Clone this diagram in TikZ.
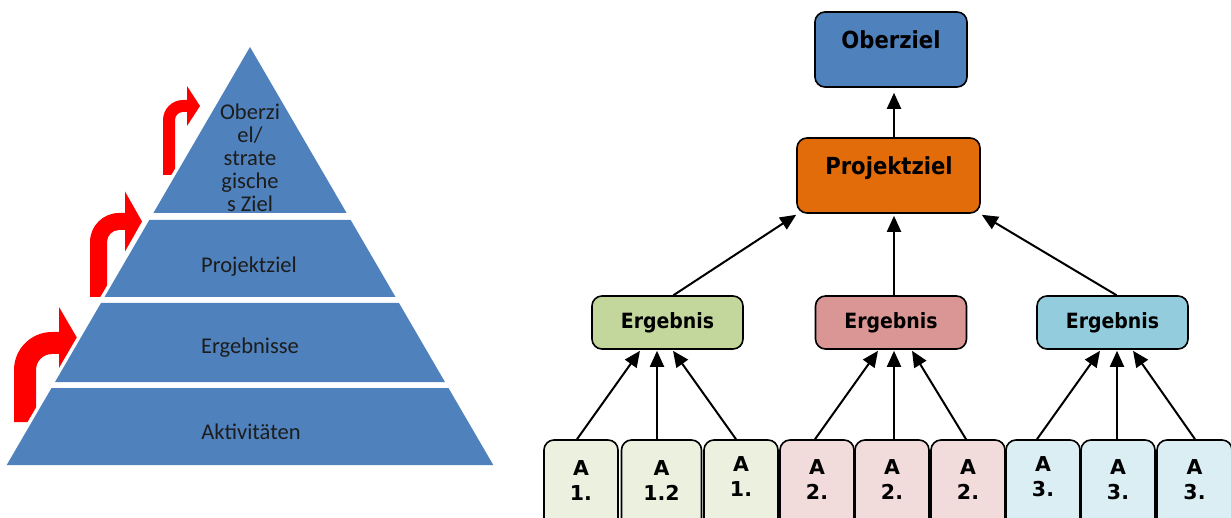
\documentclass[tikz,border=0pt]{standalone}
\usepackage{fontspec}
\setmainfont{Carlito}
\newfontfamily\dvb{DejaVu Sans Bold}[FakeStretch=0.9]
\newfontfamily\dvbw{DejaVu Sans Bold}
\usetikzlibrary{arrows.meta,calc}
\definecolor{pyrblue}{HTML}{4F81BD}
\definecolor{arrowred}{HTML}{FF0000}
\definecolor{obblue}{HTML}{4F81BD}
\definecolor{pzorange}{HTML}{E36C0A}
\definecolor{egreen}{HTML}{C3D69B}
\definecolor{epink}{HTML}{D99694}
\definecolor{ecyan}{HTML}{93CDDD}
\definecolor{agreen}{HTML}{EBF1DE}
\definecolor{apink}{HTML}{F2DCDB}
\definecolor{acyan}{HTML}{DBEEF4}
\definecolor{pyrtext}{HTML}{1C1C1C}
% xL, yB, t, yT, R, xH, h, xTip
\newcommand{\redbent}[8]{%
  \fill[arrowred] (#1,#2) -- (#1,{#4+#5})
    .. controls (#1,{#4+0.448*#5}) and ({#1+0.448*#5},#4) .. ({#1+#5},#4)
    -- (#6,#4) -- (#6,{#4+#3/2-#7}) -- (#8,{#4+#3/2}) -- (#6,{#4+#3/2+#7})
    -- (#6,{#4+#3}) -- ({#1+#5},{#4+#3})
    .. controls ({#1+#5-0.552*(#5-#3)},{#4+#3}) and ({#1+#3},{#4+#5-0.552*(#5-#3)}) .. ({#1+#3},{#4+#5})
    -- ({#1+#3},#2) -- cycle;}
\newcommand{\pyrx}[1]{0.582*(#1-47)}
\begin{document}
\begin{tikzpicture}[x=1pt,y=-1pt,
  pyrlabel/.style={text=pyrtext, font=\fontsize{22.5}{23}\selectfont, align=center, inner sep=0pt},
  gbox/.style={draw=black, line width=1.6pt, rounded corners=10pt, inner sep=0pt},
  bigtxt/.style={font=\dvb\fontsize{23.5}{26}\selectfont, inner sep=0pt},
  etxt/.style={font=\dvb\fontsize{21}{24}\selectfont},
  atxt/.style={font=\dvbw\fontsize{20.5}{25}\selectfont, align=center, inner sep=0pt},
  conn/.style={draw=black, line width=2pt, -{Triangle[length=16pt,width=14pt]}}]
\useasboundingbox (0,0) rectangle (1231,518);
\fill[white] (0,0) rectangle (1231,518);

% red bent arrows (behind pyramid)
\redbent{14}{422}{22}{332}{38}{59}{36}{80}
\redbent{90}{297}{17}{213}{29}{125}{30}{142}
\redbent{163}{175}{12}{100}{20}{187}{20}{200}

% pyramid: white halo, then blue fill
\foreach \ya/\yb in {220/297,303/382,388/465}{
  \draw[white, line width=7pt, line join=miter]
    ({250-\pyrx{\ya}},\ya) -- ({250+\pyrx{\ya}},\ya) -- ({250+\pyrx{\yb}},\yb) -- ({250-\pyrx{\yb}},\yb) -- cycle;
}
\draw[white, line width=7pt, line join=round] (250,47) -- ({250+\pyrx{213}},213) -- ({250-\pyrx{213}},213) -- cycle;
\fill[pyrblue] (250,47) -- ({250+\pyrx{213}},213) -- ({250-\pyrx{213}},213) -- cycle;
\foreach \ya/\yb in {220/297,303/382,388/465}{
  \fill[pyrblue]
    ({250-\pyrx{\ya}},\ya) -- ({250+\pyrx{\ya}},\ya) -- ({250+\pyrx{\yb}},\yb) -- ({250-\pyrx{\yb}},\yb) -- cycle;
}
\node[pyrlabel] (t1) at (250,158) {Oberzi\\el/\\strate\\gische\\s Ziel};
\node[pyrlabel] (t2) at (249,267) {Projektziel};
\node[pyrlabel] (t3) at (250,348) {Ergebnisse};
\node[pyrlabel] (t4) at (251,432) {Aktivitäten};

% right hierarchy
\node[gbox, fill=obblue, minimum width=152pt, minimum height=75pt] (ob) at (891,49.5) {};
\node[bigtxt] (obt) at (891,40) {Oberziel};
\node[gbox, fill=pzorange, minimum width=183pt, minimum height=75pt] (pz) at (888.5,175.5) {};
\node[bigtxt] (pzt) at (889,168) {Projektziel};

\node[gbox, fill=egreen, minimum width=151pt, minimum height=53pt, etxt] (e1) at (667.5,322.5) {Ergebnis};
\node[gbox, fill=epink, minimum width=151pt, minimum height=53pt, etxt] (e2) at (891,322.5) {Ergebnis};
\node[gbox, fill=ecyan, minimum width=151pt, minimum height=53pt, etxt] (e3) at (1112.5,322.5) {Ergebnis};

\foreach \n/\cx/\w/\col in {a1/581/74/agreen, a2/661.5/80/agreen, a3/741/74/agreen,
    a4/817/74/apink, a5/892/74/apink, a6/968/74/apink,
    a7/1043/74/acyan, a8/1118/74/acyan, a9/1194.5/75/acyan}{
  \node[gbox, fill=\col, minimum width=\w pt, minimum height=92pt] (\n) at (\cx,486) {};
}
\node[atxt] (a1t) at (581,481) {A\\1.};
\node[atxt] (a2t) at (661.5,481) {A\\1.2};
\node[atxt] (a3t) at (741,477) {A\\1.};
\node[atxt] (a4t) at (817,480) {A\\2.};
\node[atxt] (a5t) at (892,480) {A\\2.};
\node[atxt] (a6t) at (968,480) {A\\2.};
\node[atxt] (a7t) at (1043,477) {A\\3.};
\node[atxt] (a8t) at (1118,480) {A\\3.};
\node[atxt] (a9t) at (1194.5,480) {A\\3.};

% connectors
\draw[conn] ($(pz.north)+(5.5,0)$) -- ($(ob.south)+(3,5)$);
\draw[conn] ($(e1.north)+(6,0)$) -- ($(pz.south west)+(0,1)$);
\draw[conn] ($(e2.north)+(3,0)$) -- ($(pz.south)+(5.5,2)$);
\draw[conn] ($(e3.north)+(4,0)$) -- ($(pz.south east)+(1,1)$);

\draw[conn] ($(a1.north)+(-4,0)$) -- ($(e1.south)+(-27.5,1)$);
\draw[conn] ($(a2.north)+(-4.5,0)$) -- ($(e1.south)+(-10.5,1)$);
\draw[conn] ($(a3.north)+(-5,0)$) -- ($(e1.south)+(5.5,1)$);
\draw[conn] ($(a4.north)+(-2,0)$) -- ($(e2.south)+(-13,1)$);
\draw[conn] ($(a5.north)+(2,0)$) -- ($(e2.south)+(3,1)$);
\draw[conn] ($(a6.north)+(-2,0)$) -- ($(e2.south)+(21,1)$);
\draw[conn] ($(a7.north)+(-6,0)$) -- ($(e3.south)+(-12.5,1)$);
\draw[conn] ($(a8.north)+(-1,0)$) -- ($(e3.south)+(4.5,1)$);
\draw[conn] ($(a9.north)+(0.5,0)$) -- ($(e3.south)+(20.5,1)$);
\end{tikzpicture}
\end{document}
